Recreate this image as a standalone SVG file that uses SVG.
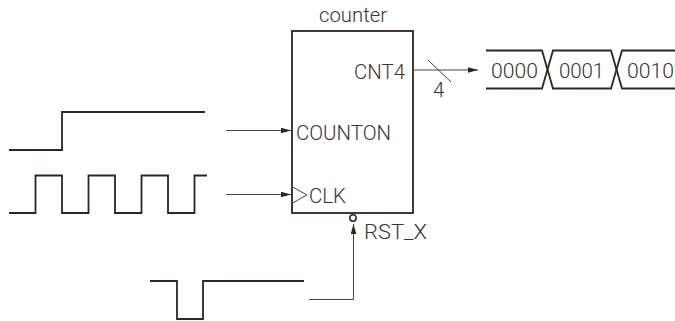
<svg xmlns="http://www.w3.org/2000/svg" width="675" height="321" viewBox="0 0 675 321">
<style>
.w{fill:none;stroke:#2e2522;stroke-width:1.8}
.c{fill:none;stroke:#4a4340;stroke-width:1}
.t{font-family:Roboto,"Liberation Sans",Arial,sans-serif;font-weight:300;font-size:20.500px;fill:#3a3330}
.h{fill:#2e2522}
</style>
<defs><marker id="a" markerUnits="userSpaceOnUse" markerWidth="11" markerHeight="7" refX="10" refY="3" orient="auto"><path d="M0 0.2L10 3L0 5.800z" class="h"/></marker></defs>
<g id="counter">
<rect x="292" y="31" width="121" height="182" class="w"/>
<text x="319" y="22" class="t" textLength="68" lengthAdjust="spacingAndGlyphs">counter</text>
<text x="354" y="79" class="t" textLength="51" lengthAdjust="spacingAndGlyphs">CNT4</text>
<text x="296" y="140" class="t" textLength="95" lengthAdjust="spacingAndGlyphs">COUNTON</text>
<text x="309" y="203" class="t" textLength="37" lengthAdjust="spacingAndGlyphs">CLK</text>
<text x="364" y="239" class="t" textLength="63" lengthAdjust="spacingAndGlyphs">RST_X</text>
<path d="M292.500 187L307 195L292.500 203" class="c"/>
<circle cx="353" cy="218" r="3.200" fill="#fff" stroke="#2e2522" stroke-width="1.500"/>
</g>
<g id="wave-counton"><path d="M9 150H62V112H205" class="w"/></g>
<g id="wave-clk"><path d="M9 213H35.500V175.500H62V213H88.500V175.500H115V213H141.500V175.500H168V213H194.500V175.500H207" class="w"/></g>
<g id="wave-rst"><path d="M150 281H177V319H203V281H304" class="w"/></g>
<g id="wave-cnt">
<path d="M486 50.500H542L553 88.500H611L622 50.500H675" class="w"/>
<path d="M486 88.500H542L553 50.500H611L622 88.500H675" class="w"/>
<text x="491" y="78" class="t" textLength="47" lengthAdjust="spacingAndGlyphs">0000</text>
<text x="559" y="78" class="t" textLength="45" lengthAdjust="spacing">0001</text>
<text x="627" y="78" class="t" textLength="47" lengthAdjust="spacingAndGlyphs">0010</text>
</g>
<g id="connectors">
<path d="M226 130.500H291" class="c" marker-end="url(#a)"/>
<path d="M226 194.500H291" class="c" marker-end="url(#a)"/>
<path d="M309 299.500H353.500V224" class="c" marker-end="url(#a)"/>
<path d="M413 70H478" class="c" marker-end="url(#a)"/>
<path d="M428 60L451 82" class="c"/>
<text x="433" y="97" class="t">4</text>
</g>
</svg>
